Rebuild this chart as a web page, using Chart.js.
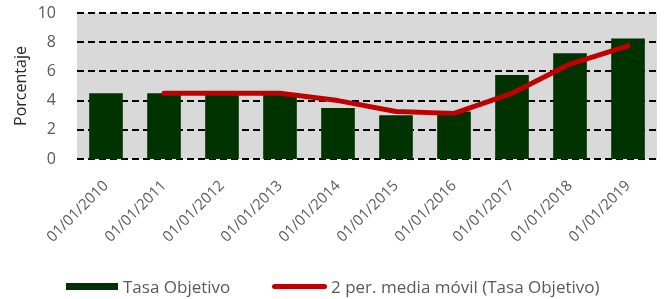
<!DOCTYPE html>
<html>
<head>
<meta charset="utf-8">
<script src="https://cdn.jsdelivr.net/npm/chart.js@4/dist/chart.umd.min.js"></script>
<style>
  html, body { margin: 0; padding: 0; background: #fff; }
  #wrap { position: relative; width: 665px; height: 299px; }
  #legend { position: absolute; left: 0; top: 275px; width: 665px; height: 24px;
    font-family: "Open Sans", sans-serif; font-size: 17px; color: #595959; }
  .item { position: absolute; top: 0; line-height: 24px; white-space: nowrap; }
  .swatch { position: absolute; }
</style>
</head>
<body>
<div id="wrap">
  <canvas id="c" width="665" height="299"></canvas>
  <div id="legend">
    <div class="swatch" style="left:66px;top:8px;width:52px;height:7px;background:#003300"></div>
    <div class="item" style="left:123px">Tasa Objetivo</div>
    <div class="swatch" style="left:272px;top:9px;width:55px;height:5px;border-radius:3px;background:#c00000"></div>
    <div class="item" style="left:331px">2 per. media móvil (Tasa Objetivo)</div>
  </div>
</div>
<script>
;(function() {
  const labels = ['01/01/2010', '01/01/2011', '01/01/2012', '01/01/2013', '01/01/2014',
    '01/01/2015', '01/01/2016', '01/01/2017', '01/01/2018', '01/01/2019'];
  const tasaObjetivo = [4.5, 4.5, 4.5, 4.5, 3.5, 3.0, 3.25, 5.75, 7.25, 8.25];
  const mediaMovil = [null, 4.5, 4.5, 4.5, 4.0, 3.25, 3.125, 4.5, 6.5, 7.75];

  const font = '"Open Sans", sans-serif';

  // gray plot background + dashed grid (under the bars)
  const plotBg = {
    id: 'plotBg',
    beforeDatasetsDraw(chart) {
      const { ctx, chartArea: a, scales } = chart;
      ctx.save();
      ctx.fillStyle = '#d9d9d9';
      ctx.fillRect(a.left, a.top, a.right - a.left, a.bottom - a.top);
      ctx.strokeStyle = '#000';
      ctx.lineWidth = 2;
      ctx.setLineDash([7, 4]);
      scales.y.ticks.forEach(t => {
        const y = Math.round(scales.y.getPixelForValue(t.value));
        ctx.beginPath();
        ctx.moveTo(a.left, y);
        ctx.lineTo(a.right, y);
        ctx.stroke();
      });
      ctx.restore();
    }
  };

  const ctx = document.getElementById('c').getContext('2d');
  new Chart(ctx, {
    data: {
      labels: labels,
      datasets: [{
        type: 'line',
        label: '2 per. media móvil (Tasa Objetivo)',
        data: mediaMovil,
        borderColor: '#c00000',
        borderWidth: 5,
        borderCapStyle: 'round',
        borderJoinStyle: 'round',
        pointRadius: 0,
        tension: 0,
        order: 0,
      }, {
        type: 'bar',
        label: 'Tasa Objetivo',
        data: tasaObjetivo,
        backgroundColor: '#003300',
        categoryPercentage: 1,
        barPercentage: 0.58,
        order: 1,
      }]
    },
    options: {
      responsive: false,
      animation: false,
      layout: { padding: { top: 13, right: 8, left: 0, bottom: 0 } },
      plugins: { legend: { display: false }, tooltip: { enabled: false } },
      scales: {
        x: {
          grid: { display: false },
          border: { display: false },
          ticks: {
            color: '#595959',
            font: { family: font, size: 15 },
            minRotation: 45,
            maxRotation: 45,
            padding: 10,
          },
          afterFit: s => { s.height = 140; },
        },
        y: {
          min: 0,
          max: 10,
          ticks: {
            stepSize: 2,
            color: '#595959',
            font: { family: font, size: 16 },
            padding: 21,
          },
          grid: { display: false, drawTicks: false },
          border: { display: false },
          title: {
            display: true,
            text: 'Porcentaje',
            color: '#262626',
            font: { family: font, size: 16 },
            padding: { top: 12, bottom: 0 },
          },
          afterFit: s => {
            s.width = 77;
            s.paddingTop = 0;
            s.paddingBottom = 0;
          },
        }
      }
    },
    plugins: [plotBg]
  });
})();
</script>
</body>
</html>
